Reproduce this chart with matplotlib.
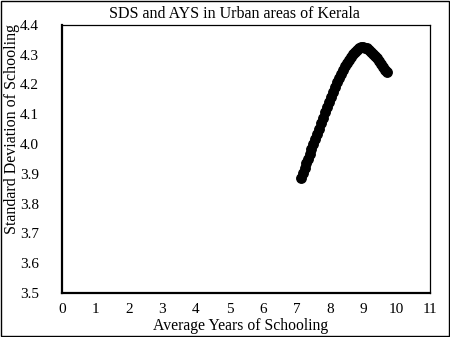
import matplotlib.pyplot as plt
from matplotlib.patches import Rectangle

# average years of schooling vs. its standard deviation, urban Kerala
ays = [7.15, 7.20, 7.25, 7.30, 7.35, 7.40, 7.45, 7.50, 7.55, 7.61, 7.67,
       7.73, 7.79, 7.85, 7.91, 7.97, 8.03, 8.09, 8.15, 8.21, 8.27, 8.33,
       8.39, 8.45, 8.51, 8.57, 8.63, 8.69, 8.75, 8.81, 8.87, 8.93, 8.99,
       9.05, 9.11, 9.17, 9.23, 9.29, 9.35, 9.41, 9.47, 9.53, 9.59, 9.65,
       9.70]
sds = [3.885, 3.902, 3.918, 3.935, 3.951, 3.968, 3.984, 4.000, 4.016,
       4.034, 4.052, 4.070, 4.088, 4.106, 4.124, 4.141, 4.158, 4.175,
       4.191, 4.207, 4.222, 4.236, 4.249, 4.261, 4.272, 4.282, 4.292,
       4.301, 4.309, 4.316, 4.321, 4.325, 4.326, 4.324, 4.321, 4.316,
       4.310, 4.303, 4.296, 4.288, 4.279, 4.269, 4.259, 4.249, 4.241]

x_ticks = list(range(0, 12))
y_ticks = [3.5, 3.6, 3.7, 3.8, 3.9, 4.0, 4.1, 4.2, 4.3, 4.4]

plt.rcParams["font.family"] = ["Liberation Serif", "DejaVu Serif"]

fig = plt.figure(figsize=(4.5, 3.37), dpi=100)
ax = fig.add_axes([0.138, 0.131, 0.818, 0.795])

ax.plot(ays, sds, "o", color="black", markersize=6.8, linestyle="none")

ax.set_xlim(0, 11)
ax.set_ylim(3.5, 4.4)
ax.set_xticks(x_ticks)
ax.set_yticks(y_ticks)
ax.set_yticklabels([f"{v:.1f}" for v in y_ticks])
ax.tick_params(length=0, labelsize=11)
ax.tick_params(axis="y", pad=16.5)
ax.tick_params(axis="x", pad=7)

for side in ["left", "bottom"]:
    ax.spines[side].set_linewidth(1.6)
for side in ["top", "right"]:
    ax.spines[side].set_linewidth(0.9)

fig.text(0.522, 0.958, "SDS and AYS in Urban areas of Kerala",
         fontsize=11.5, ha="center", va="center")
ax.set_xlabel("Average Years of Schooling", fontsize=11.3)
ax.xaxis.set_label_coords(0.486, -0.095)
ax.set_ylabel("Standard Deviation of Schooling", fontsize=11.5)
ax.yaxis.set_label_coords(-0.114, 0.612)

# outer chart border
fig.patches.append(Rectangle((0.002, 0.003), 0.995, 0.994, transform=fig.transFigure,
                             fill=False, edgecolor="black", linewidth=1))

fig.savefig("out.png", dpi=100)
